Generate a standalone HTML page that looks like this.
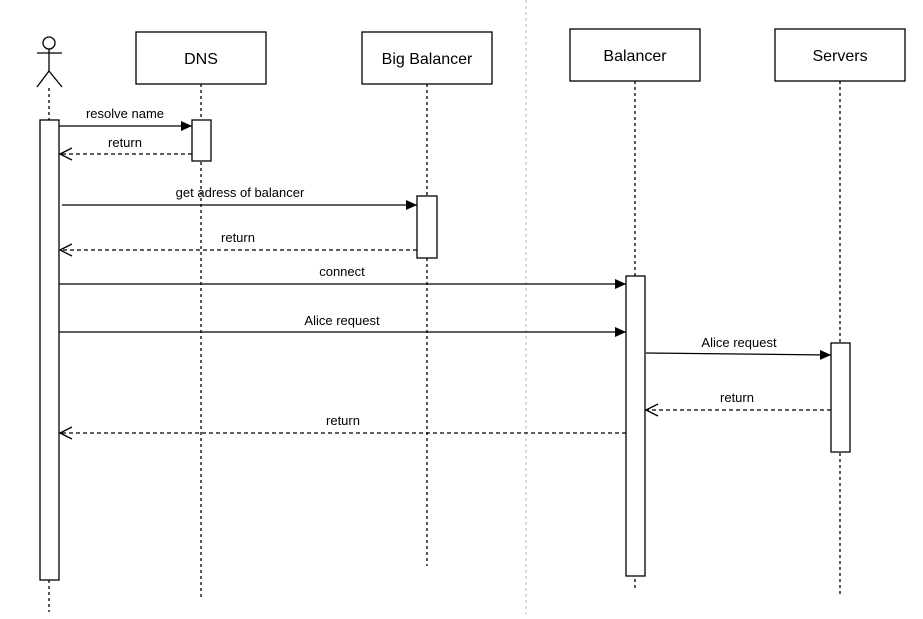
<!DOCTYPE html>
<html><head><style>body{margin:0;background:#fff}</style></head><body>
<svg width="923" height="614" xmlns="http://www.w3.org/2000/svg" font-family="Liberation Sans, Arial, sans-serif">
<defs>
<marker id="f" markerWidth="12" markerHeight="10" refX="11" refY="5" orient="auto" markerUnits="userSpaceOnUse"><path d="M0,0 L11,5 L0,10 Z" fill="#000"/></marker>
<marker id="o" markerWidth="14" markerHeight="14" refX="13" refY="7" orient="auto" markerUnits="userSpaceOnUse"><path d="M1,1 L13,7 L1,13" fill="none" stroke="#000" stroke-width="1.3"/></marker>
</defs>
<line x1="526" y1="0" x2="526" y2="614" stroke="#ddd" stroke-width="2" stroke-dasharray="3,3"/>
<g stroke="#000" fill="none" stroke-width="1.3">
<circle cx="49" cy="43" r="6"/>
<line x1="49" y1="49" x2="49" y2="71"/><line x1="37" y1="53" x2="62" y2="53"/>
<line x1="49" y1="71" x2="37" y2="87"/><line x1="49" y1="71" x2="62" y2="87"/>
</g>
<g stroke="#000" stroke-dasharray="3,3" stroke-width="1.3">
<line x1="49" y1="88" x2="49" y2="612"/>
<line x1="201" y1="84" x2="201" y2="598"/>
<line x1="427" y1="84" x2="427" y2="566"/>
<line x1="635" y1="81" x2="635" y2="591"/>
<line x1="840" y1="81" x2="840" y2="596"/>
</g>
<g fill="#fff" stroke="#000" stroke-width="1.3">
<rect x="136" y="32" width="130" height="52"/>
<rect x="362" y="32" width="130" height="52"/>
<rect x="570" y="29" width="130" height="52"/>
<rect x="775" y="29" width="130" height="52"/>
<rect x="40" y="120" width="19" height="460"/>
<rect x="192" y="120" width="19" height="41"/>
<rect x="417" y="196" width="20" height="62"/>
<rect x="626" y="276" width="19" height="300"/>
<rect x="831" y="343" width="19" height="109"/>
</g>
<g font-size="16" text-anchor="middle" fill="#000">
<text x="201" y="64">DNS</text><text x="427" y="64">Big Balancer</text>
<text x="635" y="61">Balancer</text><text x="840" y="61">Servers</text>
</g>
<g stroke="#000" stroke-width="1.3">
<line x1="59" y1="126" x2="192" y2="126" marker-end="url(#f)"/>
<line x1="62" y1="205" x2="417" y2="205" marker-end="url(#f)"/>
<line x1="59" y1="284" x2="626" y2="284" marker-end="url(#f)"/>
<line x1="59" y1="332" x2="626" y2="332" marker-end="url(#f)"/>
<line x1="646" y1="353" x2="831" y2="355" marker-end="url(#f)"/>
</g>
<g stroke="#000" stroke-width="1.3" stroke-dasharray="4,3">
<line x1="192" y1="154" x2="60" y2="154" marker-end="url(#o)"/>
<line x1="417" y1="250" x2="60" y2="250" marker-end="url(#o)"/>
<line x1="831" y1="410" x2="646" y2="410" marker-end="url(#o)"/>
<line x1="626" y1="433" x2="60" y2="433" marker-end="url(#o)"/>
</g>
<g font-size="13" text-anchor="middle" fill="#000">
<text x="125" y="118">resolve name</text>
<text x="125" y="147">return</text>
<text x="240" y="197">get adress of balancer</text>
<text x="238" y="242">return</text>
<text x="342" y="276">connect</text>
<text x="342" y="325">Alice request</text>
<text x="739" y="347">Alice request</text>
<text x="737" y="402">return</text>
<text x="343" y="425">return</text>
</g>
</svg>
</body></html>
